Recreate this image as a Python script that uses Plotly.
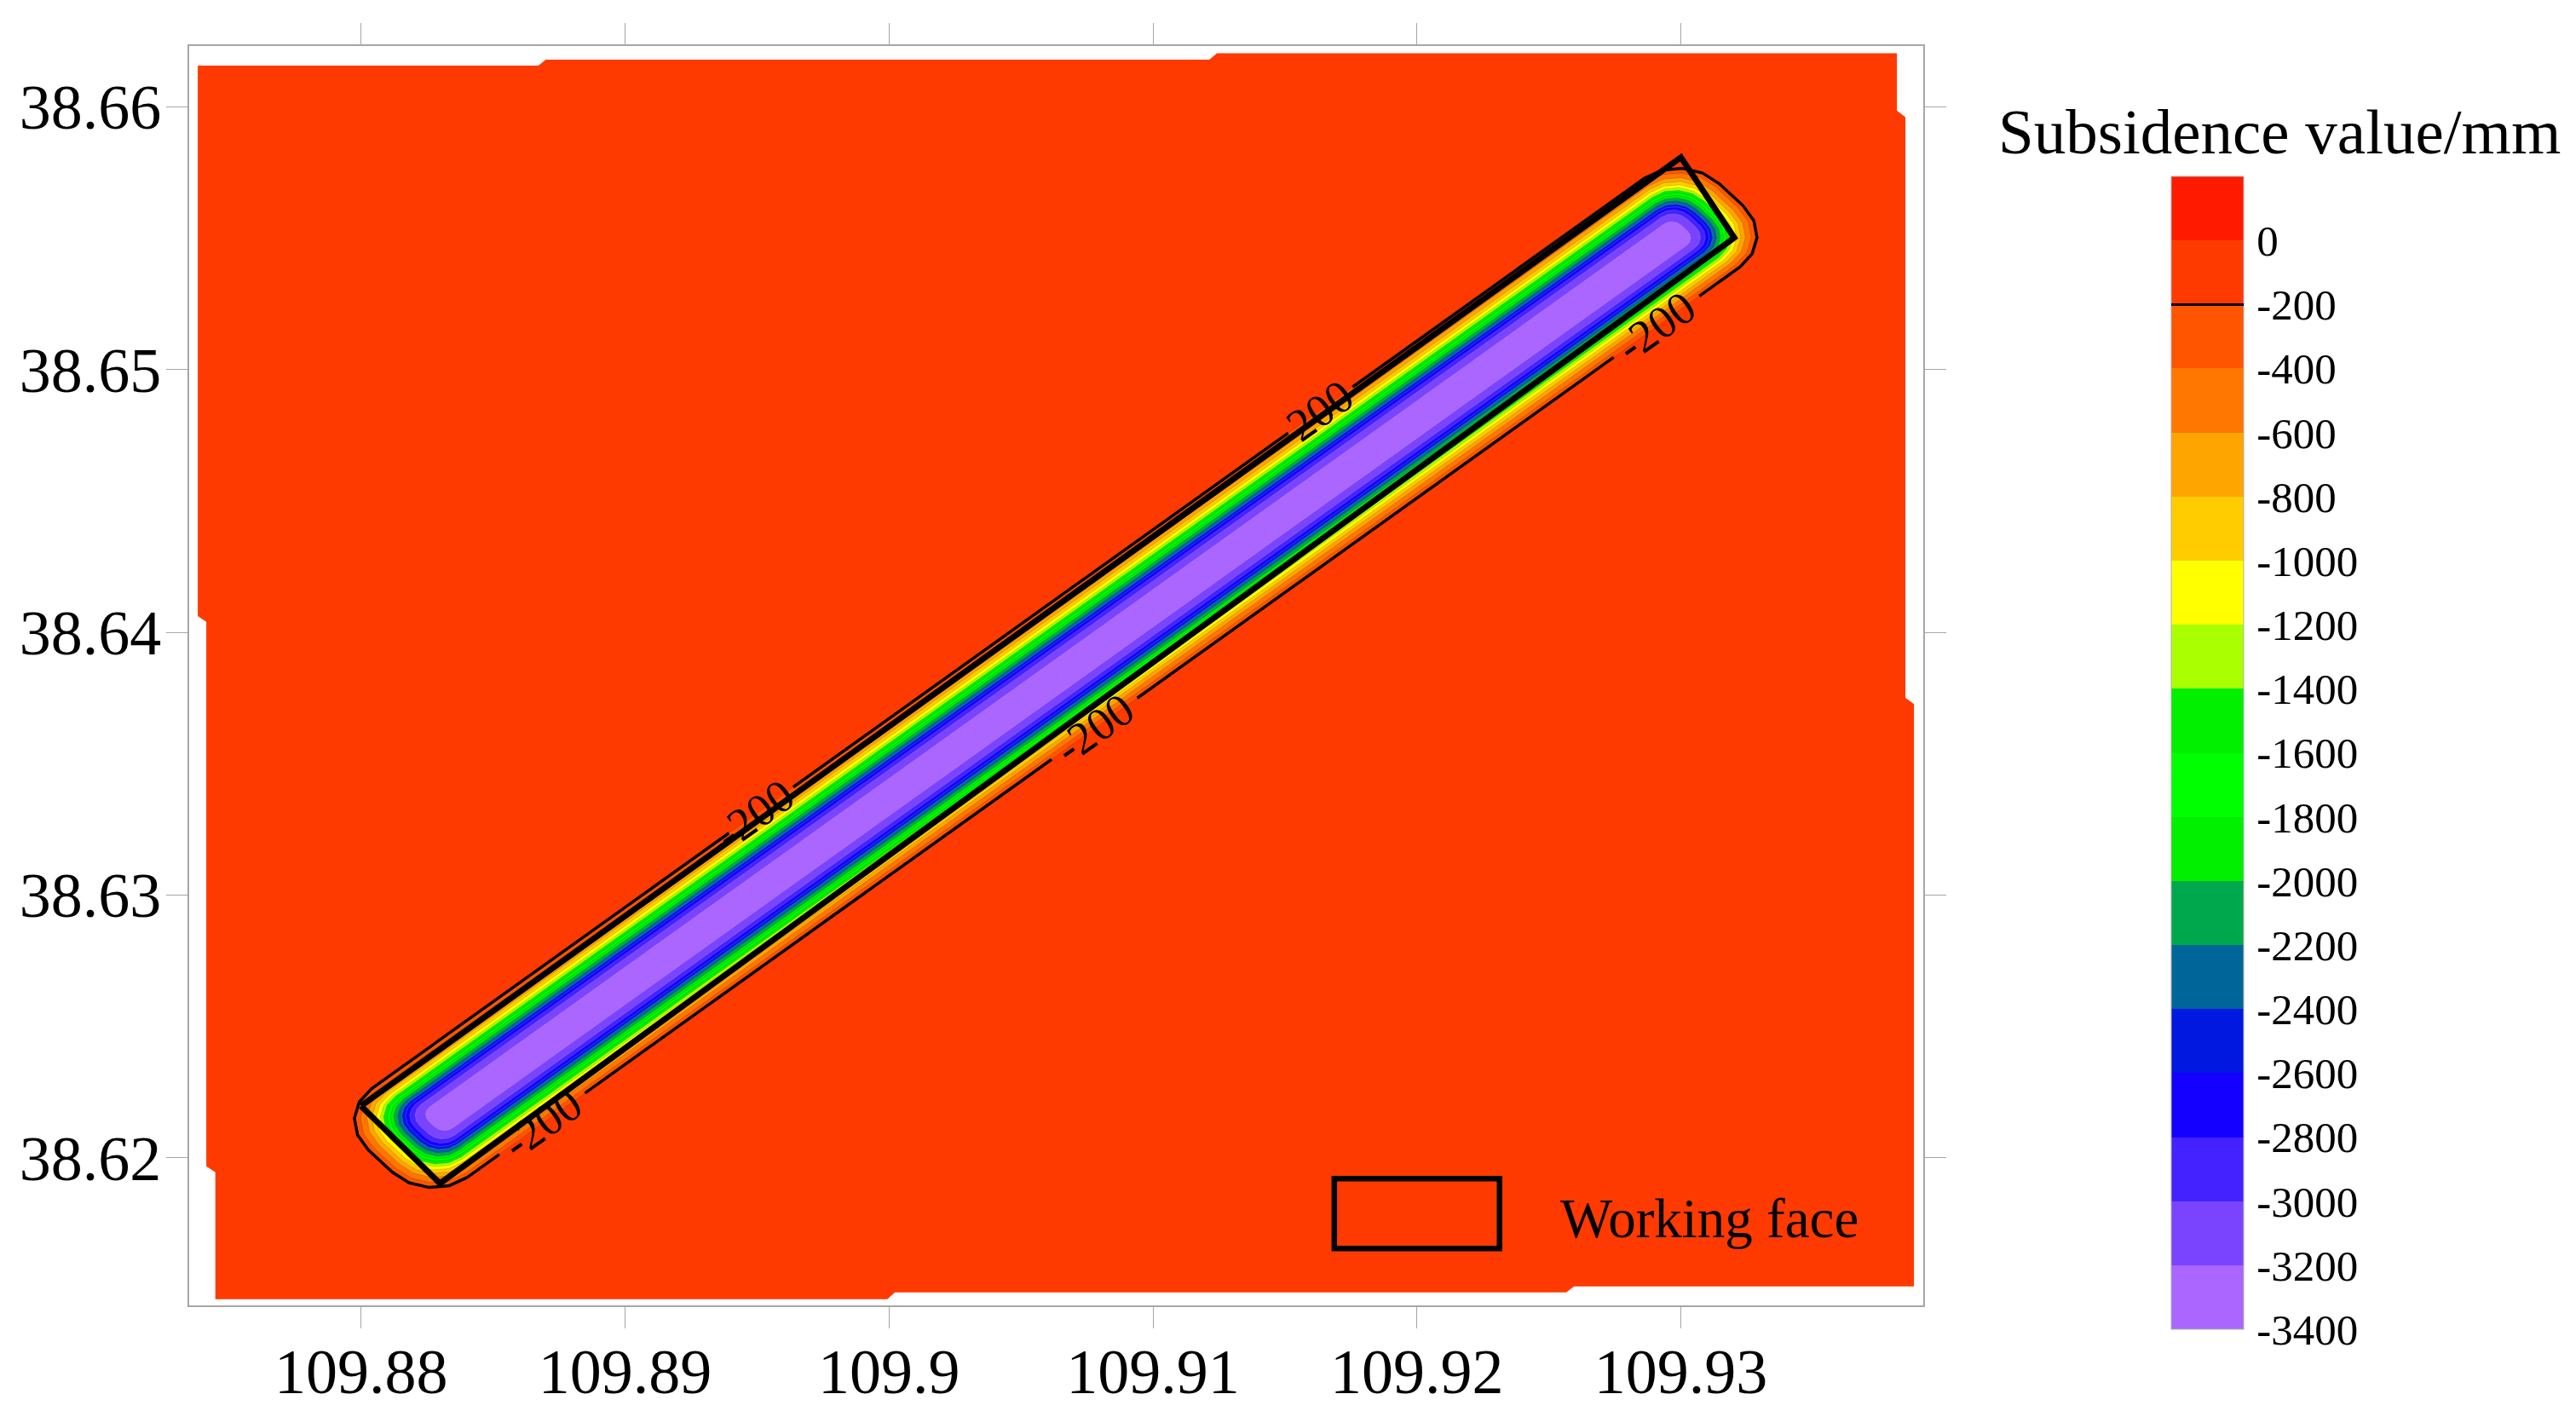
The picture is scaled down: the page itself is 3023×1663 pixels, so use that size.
import math
import plotly.graph_objects as go

# ---- axis ticks
x_ticks = [109.88, 109.89, 109.90, 109.91, 109.92, 109.93]
x_tick_labels = ["109.88", "109.89", "109.9", "109.91", "109.92", "109.93"]
y_ticks = [38.62, 38.63, 38.64, 38.65, 38.66]
y_tick_labels = ["38.62", "38.63", "38.64", "38.65", "38.66"]

# ---- surveyed area outline (lon / lat), filled with the 0..-200 class
area_lon = [109.873816, 109.886723, 109.886994, 109.912136, 109.912426, 109.938182, 109.938182,
            109.938504, 109.938504, 109.938827, 109.938827, 109.92595, 109.925659, 109.900227,
            109.899936, 109.874481, 109.874481, 109.874139, 109.874139, 109.873816, 109.873816]
area_lat = [38.661569, 38.661569, 38.661796, 38.661796, 38.662043, 38.662043, 38.659861,
            38.659608, 38.637506, 38.637276, 38.615113, 38.615113, 38.614887, 38.614887,
            38.614627, 38.614627, 38.619458, 38.619685, 38.640405, 38.640623, 38.661569]

# ---- working face outline (lon / lat)
face_lon = [109.88, 109.93, 109.93202, 109.88299, 109.88]
face_lat = [38.62198, 38.65808, 38.65502, 38.61903, 38.62198]

# ---- subsidence trough, read per contour level in a frame along the strike of the panel
trough_lon = 109.90345
trough_lat = 38.63621
strike_lon = 0.8122
strike_lat = 0.5836
end_skew = -0.2
levels = [-200, -400, -600, -800, -1000, -1200, -1400, -1600, -1800, -2000,
          -2200, -2400, -2600, -2800, -3000, -3200]
half_width = [0.002427, 0.002265, 0.002104, 0.001974, 0.001858, 0.001748, 0.001663, 0.001576,
              0.001489, 0.001401, 0.001294, 0.001191, 0.001094, 0.000981, 0.000841, 0.000575]
end_sw = [-0.027974, -0.027767, -0.027557, -0.027392, -0.027239, -0.027097, -0.026990, -0.026877,
          -0.026764, -0.026650, -0.026515, -0.026382, -0.026256, -0.026110, -0.025929, -0.025566]
end_ne = [0.035032, 0.034845, 0.034654, 0.034502, 0.034366, 0.034239, 0.034139, 0.034036,
          0.033935, 0.033832, 0.033709, 0.033586, 0.033472, 0.033340, 0.033178, 0.032848]

# ---- -200 contour labels, distance along strike
label_south = [-0.022168, 0.003592, 0.029806]
label_north = [-0.008770, 0.017314]
gap_south = [-0.022168, 0.003592, 0.029806]
gap_north = [-0.008470, 0.017614]
gap_half_south = 0.0020
gap_half_north = 0.0015

# ---- colour classes
class_bounds = [200, 0, -200, -400, -600, -800, -1000, -1200, -1400, -1600, -1800, -2000,
                -2200, -2400, -2600, -2800, -3000, -3200, -3400]
class_colors = ["#FF1A00", "#FF3A00", "#FF5500", "#FF7700", "#FFA500", "#FFCC00", "#FFFF00",
                "#AAFF00", "#00F000", "#00FF00", "#00F000", "#00A84D", "#006699", "#0018E0",
                "#1400FF", "#4422FF", "#7A44FF", "#AA66FF"]
bar_ticks = [0, -200, -400, -600, -800, -1000, -1200, -1400, -1600, -1800, -2000,
             -2200, -2400, -2600, -2800, -3000, -3200, -3400]
bar_labels = [str(v) for v in bar_ticks]

FONT = "Liberation Serif"
AXIS_GREY = "#a6a6a6"


def to_lonlat(u, v):
    """Strike frame to lon / lat."""
    return (trough_lon + u * strike_lon - v * strike_lat,
            trough_lat + u * strike_lat + v * strike_lon)


def corner(cu, cv, r, start):
    return [(cu + r * math.cos(math.radians(start + a)), cv + r * math.sin(math.radians(start + a)))
            for a in (0, 22.5, 45, 67.5, 90)]


def outline(hw, sw, ne, gaps_s=(), gaps_n=(), half_s=0.0, half_n=0.0):
    r = 0.75 * hw
    pts = [(sw + r, -hw)]
    for g in gaps_s:
        g0 = g + end_skew * hw
        pts += [(g0 - half_s, -hw), None, (g0 + half_s, -hw)]
    pts += corner(ne - r, -hw + r, r, -90)
    pts += corner(ne - r, hw - r, r, 0)
    for g in sorted(gaps_n, reverse=True):
        g0 = g - end_skew * hw
        pts += [(g0 + half_n, hw), None, (g0 - half_n, hw)]
    pts += corner(sw + r, hw - r, r, 90)
    pts += corner(sw + r, -hw + r, r, 180)
    lon, lat = [], []
    for p in pts:
        if p is None:
            lon.append(None)
            lat.append(None)
        else:
            a, b = to_lonlat(p[0] + end_skew * p[1], p[1])
            lon.append(a)
            lat.append(b)
    return lon, lat


fig = go.Figure()
fig.add_trace(go.Scatter(x=area_lon, y=area_lat, mode="lines", fill="toself",
                         fillcolor=class_colors[1], line=dict(color=class_colors[1], width=0),
                         hoverinfo="skip", showlegend=False))

for i, lev in enumerate(levels):
    lon, lat = outline(half_width[i], end_sw[i], end_ne[i])
    lon.append(lon[0])
    lat.append(lat[0])
    edge = "rgba(0,0,0,0.2)" if lev > -2400 else "rgba(255,255,255,0.22)"
    fig.add_trace(go.Scatter(x=lon, y=lat, mode="lines", fill="toself",
                             fillcolor=class_colors[i + 2],
                             line=dict(color=edge, width=0.8),
                             name=str(lev), showlegend=False))

lon, lat = outline(half_width[0], end_sw[0], end_ne[0], gap_south, gap_north,
                   gap_half_south, gap_half_north)
lon.append(lon[0])
lat.append(lat[0])
fig.add_trace(go.Scatter(x=lon, y=lat, mode="lines", line=dict(color="black", width=3.5),
                         name="-200", showlegend=False))

fig.add_trace(go.Scatter(x=face_lon, y=face_lat, mode="lines",
                         line=dict(color="black", width=7), name="Working face", showlegend=False))

# carries the colour bar
fig.add_trace(go.Scatter(
    x=[trough_lon] * len(bar_ticks), y=[trough_lat] * len(bar_ticks), mode="markers",
    hoverinfo="skip", showlegend=False,
    marker=dict(
        size=1, opacity=0, color=bar_ticks, cmin=class_bounds[-1], cmax=class_bounds[0],
        colorscale=[item for k, c in enumerate(class_colors[::-1])
                    for item in ([k / len(class_colors), c], [(k + 1) / len(class_colors), c])],
        colorbar=dict(
            x=1.14282, xanchor="left", xpad=0, y=0.89648, yanchor="top", ypad=0,
            thickness=85, thicknessmode="pixels", len=1353, lenmode="pixels",
            outlinecolor="#b0b0b0", outlinewidth=1, borderwidth=0,
            tickmode="array", tickvals=bar_ticks, ticktext=bar_labels,
            ticks="outside", ticklen=5, tickcolor="rgba(0,0,0,0)",
            tickfont=dict(family=FONT, size=51, color="black"),
        ),
    ),
))

annotations = []
for u, v in [(g, -half_width[0]) for g in label_south] + [(g, half_width[0]) for g in label_north]:
    a, b = to_lonlat(u, v)
    annotations.append(dict(x=a, y=b, xref="x", yref="y", text="-200", showarrow=False,
                            textangle=-35.7, xanchor="center", yanchor="middle",
                            font=dict(family=FONT, size=54, color="black")))
annotations.append(dict(x=0.7899, y=0.06919, xref="paper", yref="paper", text="Working face",
                        showarrow=False, xanchor="left", yanchor="middle",
                        font=dict(family=FONT, size=65, color="black")))
annotations.append(dict(x=1.20537, y=0.93187, xref="paper", yref="paper",
                        text="Subsidence value/mm", showarrow=False, xanchor="center",
                        yanchor="middle", font=dict(family=FONT, size=75, color="black")))
# black -200 mark on the colour bar
annotations.append(dict(x=1.163705, y=0.79472, xref="paper", yref="paper", text=" ",
                        showarrow=False, xanchor="center", yanchor="middle", width=85, height=3,
                        bgcolor="black", borderpad=0, borderwidth=0,
                        font=dict(family=FONT, size=2)))

shapes = [
    dict(type="rect", xref="paper", yref="paper", x0=0.66035, x1=0.75566, y0=0.04521, y1=0.10069,
         line=dict(color="black", width=6.5)),
]

axis_common = dict(showgrid=False, zeroline=False, showline=True, linecolor=AXIS_GREY, linewidth=2,
                   mirror="ticks", ticks="outside", ticklen=25, tickwidth=1, tickcolor=AXIS_GREY,
                   tickmode="array", tickfont=dict(family=FONT, size=74, color="black"))

fig.update_layout(
    width=3007, height=1647,
    margin=dict(l=213.7, r=758, t=46.3, b=122.7, pad=0, autoexpand=False),
    paper_bgcolor="white", plot_bgcolor="white", showlegend=False,
    xaxis=dict(range=[109.87349, 109.93918], tickvals=x_ticks, ticktext=x_tick_labels,
               ticklabelstandoff=-13, **axis_common),
    yaxis=dict(range=[38.61439, 38.662315], tickvals=y_ticks, ticktext=y_tick_labels,
               ticklabelstandoff=-9, **axis_common),
    annotations=annotations, shapes=shapes,
)

fig.write_html("out.html")
